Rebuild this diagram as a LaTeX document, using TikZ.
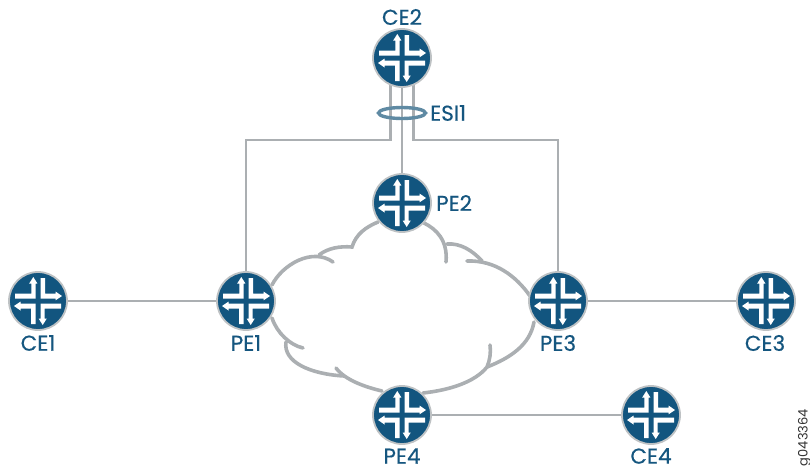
\documentclass[tikz,border=0pt]{standalone}
\usepackage{fontspec}
\setmainfont{Poppins}
\newfontfamily\labfont[FakeBold=0.5]{Poppins}
\usetikzlibrary{calc,shapes.geometric}
\pgfdeclarelayer{back}
\pgfsetlayers{back,main}
\definecolor{jblue}{HTML}{12557F}
\definecolor{jring}{HTML}{BEC2C4}
\definecolor{jlink}{HTML}{ABAFB2}
\definecolor{jesi}{HTML}{5F8AA3}
\definecolor{jtext}{HTML}{15567F}
\tikzset{
  routerbox/.style={circle,draw=jring,line width=1.8pt,fill=jblue,minimum size=58pt,inner sep=0pt},
  lab/.style={text=jtext,font=\labfont\fontsize{21.5}{24}\selectfont,inner sep=0pt},
  linkline/.style={draw=jlink,line width=2.6pt},
  cloudline/.style={draw=jlink,line width=3.6pt,line cap=round},
  esiring/.style={ellipse,draw=jesi,line width=3.4pt,minimum width=47pt,minimum height=11pt,inner sep=0pt},
}
\newcommand{\routericon}[1]{%
  \begin{scope}[shift={(#1.center)},x=1pt,y=-1pt]
  \fill[white] (-6.7,-17.5) -- (-8.8,-17.5) -- (-4.7,-24) -- (-0.6,-17.5) -- (-2.5,-17.5) -- (-2.5,-2.5) -- (-23,-2.5) -- (-23,-7.5) -- (-6.7,-7.5) -- cycle;
  \fill[white] (2.5,-23) -- (7,-23) -- (7,-7.5) -- (17.5,-7.5) -- (17.5,-9.5) -- (24,-5) -- (17.5,-0.6) -- (17.5,-2.5) -- (2.5,-2.5) -- cycle;
  \fill[white] (-17.5,2.5) -- (-17.5,0.6) -- (-24,5) -- (-17.5,9.5) -- (-17.5,7.5) -- (-7,7.5) -- (-7,23) -- (-2.5,23) -- (-2.5,2.5) -- cycle;
  \fill[white] (2.5,2.5) -- (23,2.5) -- (23,7.5) -- (6.7,7.5) -- (6.7,17.5) -- (8.8,17.5) -- (4.7,24) -- (0.6,17.5) -- (2.5,17.5) -- cycle;
  \end{scope}}
\begin{document}
\begin{tikzpicture}[x=1pt,y=-1pt]
\useasboundingbox (0,0) rectangle (810,466);
% routers
\node[routerbox] (ce2) at (402,58) {};
\node[routerbox] (pe2) at (402,203) {};
\node[routerbox] (ce1) at (38,301) {};
\node[routerbox] (pe1) at (246,301) {};
\node[routerbox] (pe3) at (558,301) {};
\node[routerbox] (ce3) at (766,301) {};
\node[routerbox] (pe4) at (402,415) {};
\node[routerbox] (ce4) at (651,415) {};
\foreach \r in {ce2,pe2,ce1,pe1,pe3,ce3,pe4,ce4} {\routericon{\r}}
% labels
\node[lab] (lce2) at (402,17) {CE2};
\node[lab,anchor=west] (lpe2) at (436,203) {PE2};
\node[lab] (lce1) at (38,343) {CE1};
\node[lab] (lpe1) at (246,343) {PE1};
\node[lab] (lpe3) at (558,343) {PE3};
\node[lab] (lce3) at (765,343) {CE3};
\node[lab] (lpe4) at (402,456) {PE4};
\node[lab] (lce4) at (651,456) {CE4};
\node[lab,anchor=west] (lesi) at (430,113) {ESI1};
\node[rotate=90,anchor=east,text=black!80,font=\fontsize{13}{15}\selectfont,inner sep=0pt] (gnum) at (804.5,409) {g043364};
\begin{pgfonlayer}{back}
% links
\draw[linkline] ([xshift=-11.5pt]ce2.center) -- ++(0,82) -| (pe1.center);
\draw[linkline] ([xshift=11.5pt]ce2.center) -- ++(0,82) -| (pe3.center);
\draw[linkline] (ce2) -- (pe2);
\draw[linkline] (ce1) -- (pe1);
\draw[linkline] (pe3) -- (ce3);
\draw[linkline] (pe4) -- (ce4);
% cloud
\draw[cloudline] (272,285) .. controls (282,265) and (312,247) .. (333,262);
\draw[cloudline] (319,255) .. controls (328,248) and (340,246) .. (352,247) .. controls (356,234) and (366,227) .. (378,222);
\draw[cloudline] (424,223) .. controls (436,229) and (448,240) .. (446,262);
\draw[cloudline] (447,244) .. controls (460,243) and (472,250) .. (482,261);
\draw[cloudline] (467,261) .. controls (495,260) and (516,276) .. (530,296);
\draw[cloudline] (534,322) .. controls (530,345) and (510,358) .. (487,367);
\draw[cloudline] (490,345) .. controls (491,352) and (490,360) .. (487,367) .. controls (475,382) and (450,390) .. (423,393);
\draw[cloudline] (272,318) .. controls (277,333) and (290,345) .. (303,348);
\draw[cloudline] (286,342) .. controls (283,362) and (310,374) .. (344,376);
\draw[cloudline] (336,368) .. controls (345,380) and (365,387) .. (382,391);
\end{pgfonlayer}
\node[esiring] (esi) at (402,113) {};
\end{tikzpicture}
\end{document}
